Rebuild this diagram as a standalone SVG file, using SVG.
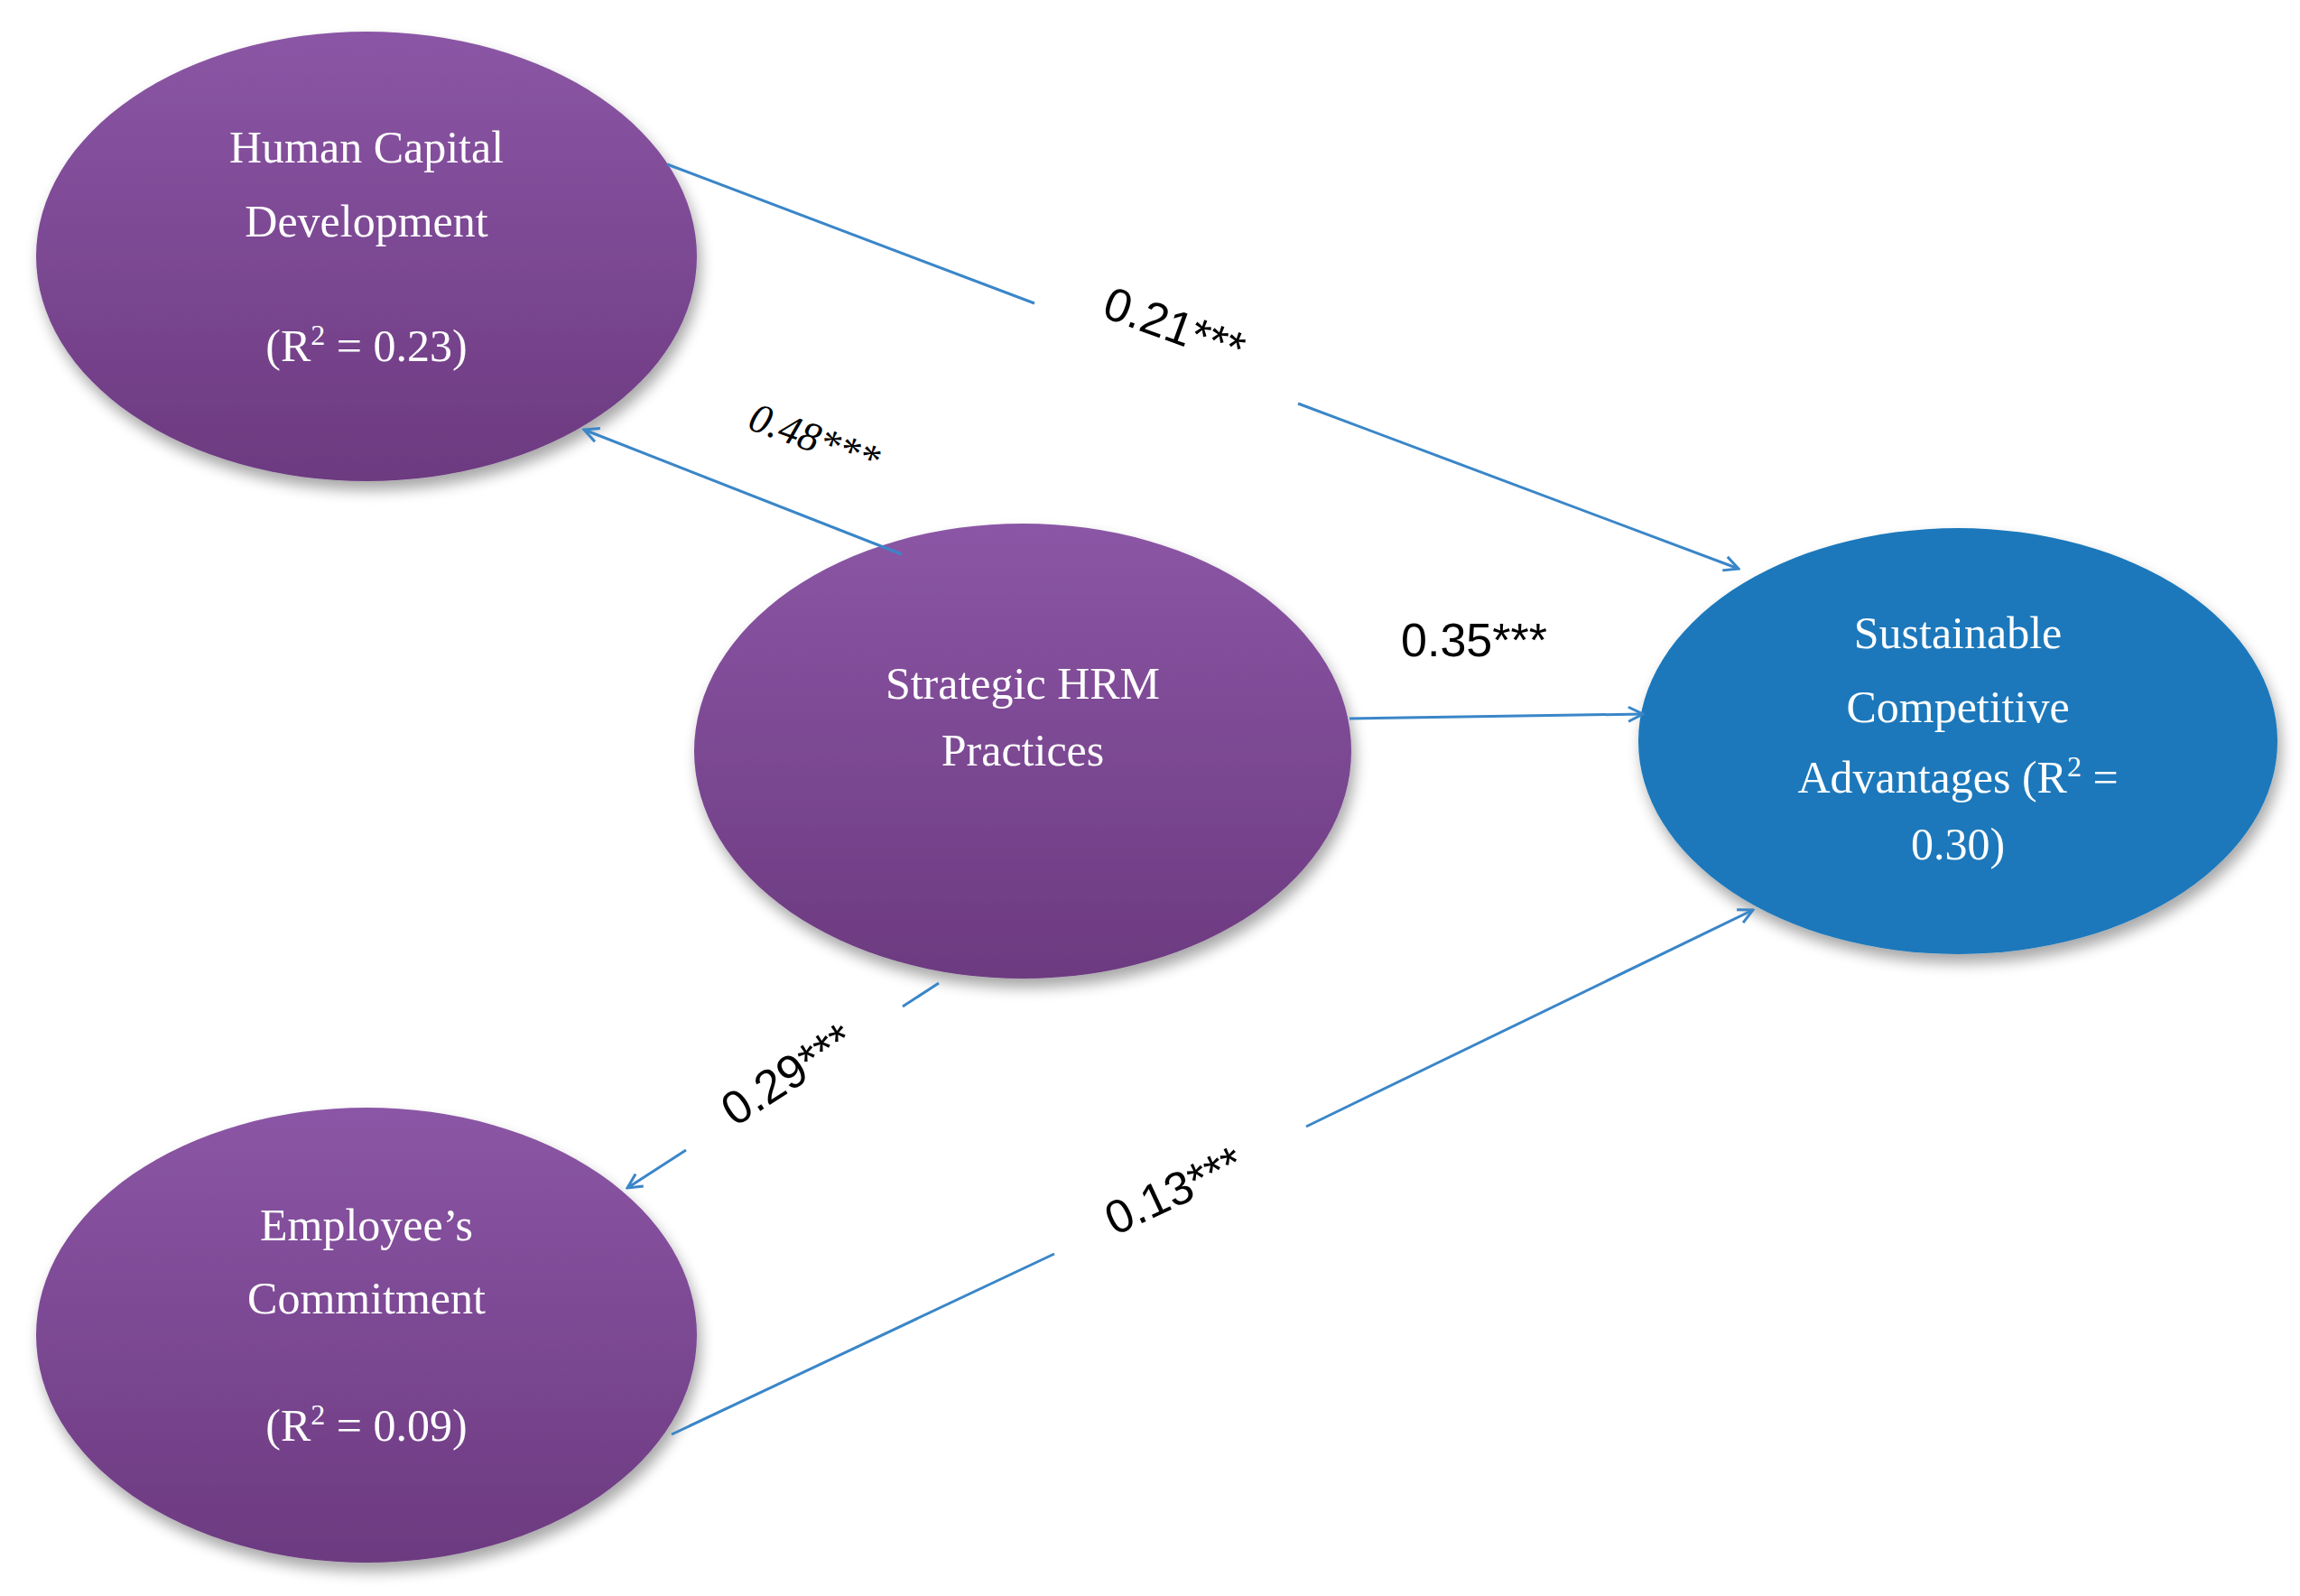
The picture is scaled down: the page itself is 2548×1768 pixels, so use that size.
<svg xmlns="http://www.w3.org/2000/svg" width="2548" height="1768" viewBox="0 0 2548 1768">
<style>
.nt{font-family:"Liberation Serif",serif;font-size:50px;fill:#fff;text-anchor:middle}
.lb{font-family:"Liberation Sans",sans-serif;font-size:52px;fill:#000;text-anchor:middle}
.lbi{font-family:"Liberation Serif",serif;font-style:italic;font-size:46px;fill:#000;text-anchor:middle}
.c{stroke:#3a86c8;stroke-width:3;fill:none}
</style>
<defs>
<linearGradient id="pg" x1="0" y1="0" x2="0" y2="1"><stop offset="0" stop-color="#8b56a5"/><stop offset="1" stop-color="#6c3a80"/></linearGradient>
<filter id="sh" x="-10%" y="-10%" width="125%" height="130%"><feGaussianBlur in="SourceAlpha" stdDeviation="8"/><feOffset dx="4" dy="10"/><feComponentTransfer><feFuncA type="linear" slope="0.35"/></feComponentTransfer><feMerge><feMergeNode/><feMergeNode in="SourceGraphic"/></feMerge></filter>
<marker id="ar" viewBox="0 0 20 20" refX="18" refY="10" markerWidth="20" markerHeight="20" markerUnits="userSpaceOnUse" orient="auto"><path d="M2,2 L18,10 L2,18" fill="none" stroke="#3a86c8" stroke-width="3"/></marker>
</defs>
<rect width="2548" height="1768" fill="#fff"/>
<g id="hc"><ellipse cx="406" cy="284" rx="366" ry="249" fill="url(#pg)" filter="url(#sh)"/>
<text class="nt" x="406" y="180">Human Capital</text><text class="nt" x="406" y="262">Development</text><text class="nt" x="406" y="400">(R<tspan dy="-18" font-size="32">2</tspan><tspan dy="18"> = 0.23)</tspan></text></g>
<g id="shrm"><ellipse cx="1133" cy="832" rx="364" ry="252" fill="url(#pg)" filter="url(#sh)"/>
<text class="nt" x="1133" y="774">Strategic HRM</text><text class="nt" x="1133" y="848">Practices</text></g>
<g id="ec"><ellipse cx="406" cy="1479" rx="366" ry="252" fill="url(#pg)" filter="url(#sh)"/>
<text class="nt" x="406" y="1374">Employee’s</text><text class="nt" x="406" y="1455">Commitment</text><text class="nt" x="406" y="1596">(R<tspan dy="-18" font-size="32">2</tspan><tspan dy="18"> = 0.09)</tspan></text></g>
<g id="sca"><ellipse cx="2169" cy="821" rx="354" ry="236" fill="#1a78bb" filter="url(#sh)"/>
<text class="nt" x="2169" y="718">Sustainable</text><text class="nt" x="2169" y="800">Competitive</text><text class="nt" x="2169" y="878">Advantages (R<tspan dy="-18" font-size="32">2</tspan><tspan dy="18"> =</tspan></text><text class="nt" x="2169" y="952">0.30)</text></g>
<g id="connectors">
<polyline class="c" points="739,182 1146,336"/><line class="c" x1="1438" y1="447" x2="1926" y2="630" marker-end="url(#ar)"/>
<line class="c" x1="999" y1="614" x2="647" y2="476" marker-end="url(#ar)"/>
<line class="c" x1="1495" y1="796" x2="1820" y2="791" marker-end="url(#ar)"/>
<line class="c" x1="1040" y1="1089" x2="1000" y2="1115"/><line class="c" x1="760" y1="1274" x2="695" y2="1316" marker-end="url(#ar)"/>
<line class="c" x1="744" y1="1589" x2="1168" y2="1389"/><line class="c" x1="1447" y1="1248" x2="1942" y2="1008" marker-end="url(#ar)"/>
<text class="lb" transform="translate(1295,378) rotate(20)">0.21***</text>
<text class="lbi" transform="translate(897,500) rotate(20)">0.48***</text>
<text class="lb" x="1633" y="727">0.35***</text>
<text class="lb" transform="translate(882,1205) rotate(-33)">0.29***</text>
<text class="lb" transform="translate(1308,1335) rotate(-25)">0.13***</text>
</g>
</svg>
